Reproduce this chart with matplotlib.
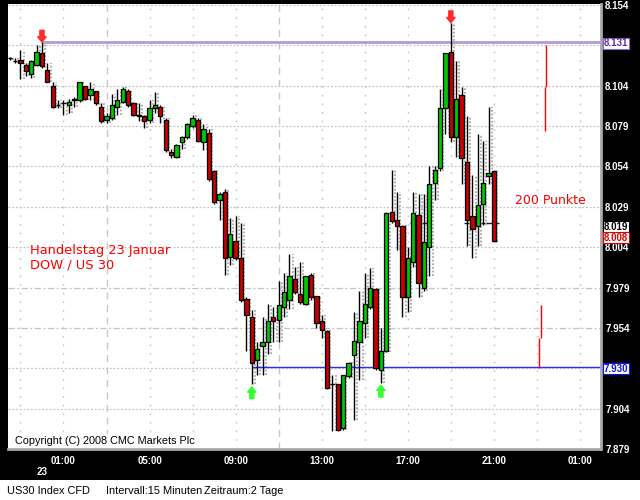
import matplotlib
matplotlib.use('Agg')
import matplotlib.pyplot as plt
import matplotlib.dates as mdates
from matplotlib.patches import Rectangle
import pandas as pd

# ---------------- data (index points, 15-minute candles) ----------------
start_time = '2008-01-22 22:30'
opens = [8121, 8119, 8120, 8117, 8111, 8117, 8124, 8114, 8104, 8092,
         8093, 8092, 8095, 8095, 8104, 8098, 8101, 8091, 8083, 8084,
         8091, 8094, 8101, 8093, 8085, 8085, 8083, 8090, 8091, 8083,
         8063, 8060, 8069, 8072, 8079, 8083, 8069, 8075, 8051, 8033,
         8038, 7998, 8008, 7997, 7972, 7961, 7934, 7943, 7945, 7961,
         7959, 7967, 7971, 7984, 7975, 7969, 7987, 7974, 7958, 7952,
         7919, 7919, 7892, 7924, 7937, 7945, 7957, 7967, 7978, 7928,
         7940, 8026, 8021, 8017, 7973, 7995, 8024, 7979, 8004, 8044,
         8053, 8090, 8125, 8072, 8098, 8057, 8023, 8017, 8031, 8048,
         8051]
highs = [8122, 8121, 8126, 8118, 8120, 8129, 8131, 8118, 8106, 8095,
         8095, 8096, 8097, 8106, 8104, 8106, 8101, 8093, 8087, 8099,
         8102, 8103, 8102, 8094, 8093, 8086, 8095, 8100, 8092, 8084,
         8065, 8068, 8073, 8081, 8086, 8084, 8080, 8077, 8052, 8038,
         8040, 8022, 8023, 8019, 7973, 7965, 7945, 7961, 7969, 7967,
         7983, 7988, 8000, 7992, 7995, 7986, 7988, 7974, 7962, 7953,
         7925, 7919, 7925, 7933, 7964, 7977, 7988, 7991, 7979, 7954,
         8026, 8052, 8038, 8018, 8004, 8038, 8037, 8037, 8054, 8054,
         8102, 8124, 8143, 8119, 8103, 8085, 8049, 8074, 8070, 8091,
         8052]
lows = [8120, 8118, 8108, 8110, 8109, 8116, 8115, 8106, 8090, 8090,
        8086, 8087, 8091, 8094, 8095, 8095, 8092, 8081, 8081, 8083,
        8086, 8093, 8091, 8085, 8082, 8078, 8081, 8087, 8081, 8063,
        8059, 8059, 8065, 8071, 8078, 8069, 8064, 8045, 8031, 8021,
        7987, 7993, 7996, 7970, 7940, 7919, 7925, 7925, 7938, 7945,
        7945, 7961, 7966, 7975, 7969, 7968, 7971, 7954, 7948, 7916,
        7890, 7890, 7891, 7923, 7897, 7922, 7948, 7966, 7928, 7920,
        7939, 8019, 8002, 7961, 7964, 7992, 7973, 7977, 7986, 8033,
        8051, 8074, 8069, 8060, 8043, 8005, 7997, 8005, 8018, 8043,
        8008]
closes = [8121, 8119, 8118, 8113, 8119, 8125, 8116, 8106, 8091, 8092,
          8093, 8094, 8096, 8106, 8096, 8102, 8093, 8082, 8085, 8092,
          8095, 8102, 8092, 8086, 8086, 8082, 8090, 8092, 8085, 8064,
          8061, 8067, 8072, 8080, 8084, 8070, 8077, 8046, 8032, 8037,
          7997, 8012, 7997, 7971, 7962, 7932, 7941, 7945, 7958, 7958,
          7968, 7976, 7986, 7976, 7970, 7986, 7973, 7957, 7953, 7917,
          7919, 7891, 7925, 7932, 7946, 7958, 7969, 7979, 7929, 7940,
          8025, 8020, 8017, 7973, 7997, 8025, 7982, 8007, 8043, 8052,
          8090, 8124, 8072, 8096, 8059, 8021, 8015, 8030, 8044, 8050,
          8008]

price_ticks = [7879, 7904, 7954, 7979, 8004, 8029, 8054, 8079, 8104, 8154]
grid_prices = [7879, 7904, 7929, 7954, 7979, 8004, 8029, 8054, 8079, 8104, 8129, 8154]
dashed_grid_prices = [7954, 7979]

resistance = 8131      # purple line (top)
support = 7930         # blue line (bottom)
last_price = 8008
marker_price = 8019
top_idx = [6, 82]       # red down arrows
bottom_idx = [45, 69]   # green up arrows
# red "200 Punkte" measuring strokes: (time, low, high)
measure_strokes = [('2008-01-23 23:25', 8103, 8129), ('2008-01-23 23:22', 8076, 8103),
                   ('2008-01-23 23:11', 7948, 7968), ('2008-01-23 23:06', 7929, 7948)]
marker_segments = [('2008-01-23 17:06', '2008-01-23 18:05'),
                   ('2008-01-23 19:36', '2008-01-23 21:15')]

# ---------------- figure ----------------
W, H = 640, 500
fig = plt.figure(figsize=(W / 100, H / 100), dpi=100, facecolor='black')
fig.patches.append(Rectangle((0, 0), 1, 20 / H, transform=fig.transFigure,
                             facecolor='white', edgecolor='none', zorder=0))
ax = fig.add_axes([8 / W, 1 - 449 / H, 593 / W, 445 / H])
ax.set_facecolor('white')

times = pd.date_range(start_time, periods=len(opens), freq='15min')
tn = mdates.date2num(times.to_pydatetime())
minute = 1.0 / 1440.0

ax.set_xlim(mdates.date2num(pd.Timestamp('2008-01-22 22:25.3')),
            mdates.date2num(pd.Timestamp('2008-01-24 01:58.6')))
ax.set_ylim(7879.0, 8154.6)

# grid
for p in grid_prices:
    if p in dashed_grid_prices:
        ax.axhline(p, color='#C4C4C4', lw=0.9, ls=(0, (5, 2, 1.5, 2)), zorder=0)
    else:
        ax.axhline(p, color='#C4C4C4', lw=0.9, ls=(0, (1.5, 1.5)), zorder=0)
for h in pd.date_range('2008-01-22 23:00', '2008-01-24 01:00', freq='2h'):
    x = mdates.date2num(h)
    if h.hour in (3, 11) and h.day == 23:
        ax.axvline(x, color='#C8C8C8', lw=1.0, ls=(0, (5, 4)), zorder=0)
    else:
        ax.axvline(x, color='#C4C4C4', lw=1.0, ls=(0, (1.2, 5)), zorder=0)

# reference lines
ax.hlines(resistance, tn[top_idx[0]], ax.get_xlim()[1], color='#B49BD6', lw=2.0, zorder=2)
ax.hlines(support, tn[bottom_idx[0]], ax.get_xlim()[1], color='#2B2BFF', lw=1.0, zorder=2)
for a, b in marker_segments:
    ax.hlines(marker_price, mdates.date2num(pd.Timestamp(a)), mdates.date2num(pd.Timestamp(b)),
              color='#202020', lw=1.0, zorder=1)
ax.hlines(last_price, tn[-1], tn[-1] + 8 * minute, color='black', lw=1.0, zorder=3)

# candles
bw = 12 * minute
for x, o, hi, lo, c in zip(tn, opens, highs, lows, closes):
    ax.vlines(x + 9 * minute, lo, hi, color='#A8A8A8', lw=1.3, ls=(0, (1, 1)), zorder=1)
    ax.vlines(x, lo, hi, color='black', lw=1.0, zorder=3)
    if c == o:
        ax.hlines(o, x - bw / 2, x + bw / 2, color='black', lw=1.0, zorder=4)
        continue
    fc = '#00C800' if c > o else '#C80000'
    ax.add_patch(Rectangle((x - bw / 2, min(o, c)), bw, abs(c - o),
                           facecolor=fc, edgecolor='black', lw=0.9, zorder=4))

# arrows
astyle = 'simple,head_length=0.38,head_width=0.6,tail_width=0.3'
for i in top_idx:
    ax.annotate('', xy=(tn[i], highs[i]), xytext=(0, 8.5), textcoords='offset points',
                arrowprops=dict(arrowstyle=astyle, color='#FF2A2A', shrinkA=0, shrinkB=0,
                                mutation_scale=10), zorder=6)
for i in bottom_idx:
    ax.annotate('', xy=(tn[i], lows[i] - 1.5), xytext=(0, -8.5), textcoords='offset points',
                arrowprops=dict(arrowstyle=astyle, color='#33FF33', shrinkA=0, shrinkB=0,
                                mutation_scale=10), zorder=6)

# red measuring strokes
for t, lo, hi in measure_strokes:
    ax.vlines(mdates.date2num(pd.Timestamp(t)), lo, hi, color='#FF0000', lw=1.0, zorder=3)

# texts inside plot
ax.text(0.037, 0.43, 'Handelstag 23 Januar\nDOW / US 30', transform=ax.transAxes,
        color='#FF0000', fontsize=9.4, family='DejaVu Sans', va='center', ha='left',
        linespacing=1.2)
ax.text(mdates.date2num(pd.Timestamp('2008-01-23 21:58')), 8033, '200 Punkte',
        color='#FF0000', fontsize=9, family='DejaVu Sans', va='center', ha='left')
ax.text(7 / 593, 8 / 445, 'Copyright (C) 2008 CMC Markets Plc', transform=ax.transAxes,
        color='black', fontsize=7.8, family='Liberation Sans', va='center', ha='left',
        bbox=dict(facecolor='white', edgecolor='none', pad=1.5))

# axes styling
for s in ('top', 'left'):
    ax.spines[s].set_visible(False)
for s in ('right', 'bottom'):
    ax.spines[s].set_color('#A8A8A8')
    ax.spines[s].set_linestyle((0, (1, 1)))
    ax.spines[s].set_linewidth(2)

ax.yaxis.tick_right()
ax.set_yticks(price_ticks)
ax.set_yticklabels([f'{p / 1000:.3f}' for p in price_ticks])
ax.tick_params(axis='y', length=0, pad=3, labelcolor='white', labelsize=7)
for lab in ax.get_yticklabels():
    lab.set_fontfamily('Liberation Sans')
    lab.set_fontweight('bold')

ax.xaxis.set_major_locator(mdates.HourLocator(byhour=[1, 5, 9, 13, 17, 21]))
ax.xaxis.set_major_formatter(mdates.DateFormatter('%H:%M'))
ax.tick_params(axis='x', length=0, pad=5, labelcolor='white', labelsize=7)
for lab in ax.get_xticklabels():
    lab.set_fontfamily('Liberation Sans')
    lab.set_fontweight('bold')

# highlighted price boxes on the right scale
boxes = [(resistance, '#5A2DA8', '#8A6CC8', -1.0), (marker_price, 'black', 'black', -3.0),
         (last_price, '#E00000', '#E00000', 2.3), (support, '#1010FF', '#1010FF', -1.5)]
for val, tc, ec, dy in boxes:
    ax.annotate(f'{val / 1000:.3f}', xy=(1, val), xycoords=('axes fraction', 'data'),
                xytext=(2.0, dy), textcoords='offset points', va='center', ha='left',
                color=tc, fontsize=7, family='Liberation Sans', fontweight='bold',
                bbox=dict(facecolor='white', edgecolor=ec, lw=0.8, pad=0.5), zorder=10,
                annotation_clip=False)

fig.text(42 / W, 1 - 472 / H, '23', color='white', fontsize=7, family='Liberation Sans',
         fontweight='bold', ha='center', va='center')

# status bar
fig.text(7 / W, 1 - 491 / H, 'US30 Index CFD', color='black', fontsize=7.9,
         family='Liberation Sans', ha='left', va='center')
fig.text(106 / W, 1 - 491 / H, 'Intervall:15 Minuten', color='black', fontsize=7.9,
         family='Liberation Sans', ha='left', va='center')
fig.text(204 / W, 1 - 491 / H, 'Zeitraum:2 Tage', color='black', fontsize=7.9,
         family='Liberation Sans', ha='left', va='center')

fig.savefig('out.png', dpi=100, facecolor=fig.get_facecolor())
